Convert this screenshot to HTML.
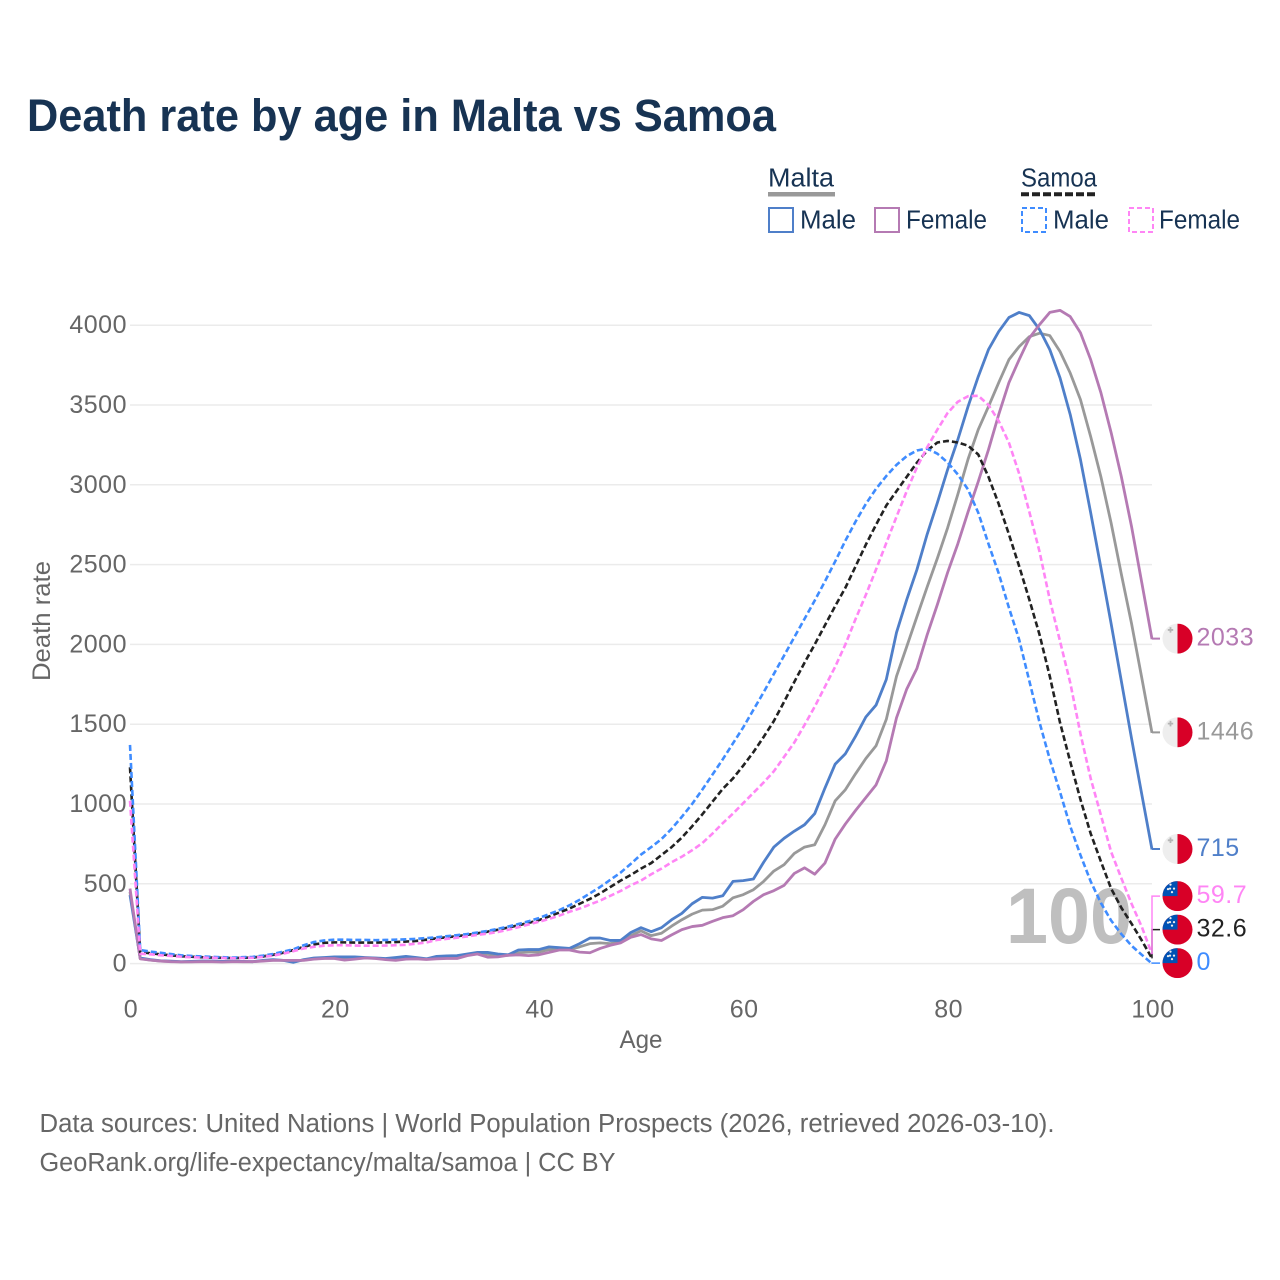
<!DOCTYPE html>
<html lang="en">
<head>
<meta charset="utf-8">
<title>Death rate by age in Malta vs Samoa</title>
<style>
html,body{margin:0;padding:0;background:#fff;}
svg{display:block;font-family:"Liberation Sans",sans-serif;}
</style>
</head>
<body>
<svg id="chart" width="1280" height="1280" viewBox="0 0 1280 1280" xmlns="http://www.w3.org/2000/svg">
  <defs>
    <clipPath id="flag-clip"><circle cx="0" cy="0" r="15"></circle></clipPath>
  </defs>
  <rect x="0" y="0" width="1280" height="1280" fill="#ffffff"></rect>
  <text x="27" y="131" font-size="45" font-weight="700" fill="#173353" textLength="749" lengthAdjust="spacingAndGlyphs">Death rate by age in Malta vs Samoa</text>

  <g font-size="25.5" fill="#173353">
    <text x="768" y="186.5" textLength="66" lengthAdjust="spacingAndGlyphs">Malta</text>
    <rect x="768" y="192" width="67" height="4.5" fill="#999999"></rect>
    <text x="1021" y="186.5" textLength="76" lengthAdjust="spacingAndGlyphs">Samoa</text>
    <line x1="1021" y1="194.2" x2="1097" y2="194.2" stroke="#222222" stroke-width="4" stroke-dasharray="8 3"></line>

    <rect x="769" y="208" width="24" height="24" fill="none" stroke="#4f7fc9" stroke-width="2"></rect>
    <text x="800" y="228.5" textLength="56" lengthAdjust="spacingAndGlyphs">Male</text>
    <rect x="875" y="208" width="24" height="24" fill="none" stroke="#b57ab3" stroke-width="2"></rect>
    <text x="906" y="228.5" textLength="81" lengthAdjust="spacingAndGlyphs">Female</text>
    <rect x="1022" y="208" width="24" height="24" fill="none" stroke="#3f8cff" stroke-width="2" stroke-dasharray="5 3"></rect>
    <text x="1053" y="228.5" textLength="56" lengthAdjust="spacingAndGlyphs">Male</text>
    <rect x="1129" y="208" width="24" height="24" fill="none" stroke="#ff85f5" stroke-width="2" stroke-dasharray="5 3"></rect>
    <text x="1159" y="228.5" textLength="81" lengthAdjust="spacingAndGlyphs">Female</text>
  </g>

  <g id="grid"></g>
  <g id="yticks" font-size="25" fill="#666666" text-anchor="end" letter-spacing="0.5"></g>
  <g id="xticks" font-size="25" fill="#666666" text-anchor="middle" letter-spacing="0.5"></g>
  <text transform="translate(50,621) rotate(-90)" font-size="25" fill="#666666" text-anchor="middle" textLength="120" lengthAdjust="spacingAndGlyphs">Death rate</text>
  <text x="641" y="1048" font-size="25" fill="#666666" text-anchor="middle" textLength="43" lengthAdjust="spacingAndGlyphs">Age</text>

  <text x="1006" y="943" font-size="79" font-weight="700" fill="#bfbfbf" textLength="126" lengthAdjust="spacingAndGlyphs">100</text>

  <g id="series" fill="none" stroke-linejoin="round"></g>
  <g id="leaders" fill="none"></g>
  <g id="flags"></g>
  <g id="endlabels" font-size="25"></g>

  <g font-size="25.5" fill="#666666">
    <text x="39.5" y="1132" textLength="1015" lengthAdjust="spacingAndGlyphs">Data sources: United Nations | World Population Prospects (2026, retrieved 2026-03-10).</text>
    <text x="39.5" y="1171" textLength="576" lengthAdjust="spacingAndGlyphs">GeoRank.org/life-expectancy/malta/samoa | CC BY</text>
  </g>
</svg>

<script>
var yTickValues = [0, 500, 1000, 1500, 2000, 2500, 3000, 3500, 4000];
var xTickValues = [0, 20, 40, 60, 80, 100];

var maltaAll = [
  450,32,22,16,13,11,12,14,14,12,
  13,12,12,18,22,20,16,22,30,34,
  38,38,38,36,34,28,30,36,32,28,
  38,40,42,52,62,58,48,52,68,72,
  72,88,88,88,105,125,130,125,135,175,
  205,175,190,235,275,310,335,338,360,412,
  432,463,515,580,620,690,730,745,870,1020,
  1090,1190,1285,1365,1530,1800,1986,2174,2360,2540,
  2730,2940,3160,3346,3490,3640,3784,3866,3928,3950,
  3935,3835,3700,3534,3302,3050,2760,2440,2130,1790,
  1446
];
var maltaMale = [
  430,35,25,18,15,12,14,16,16,14,
  15,14,12,20,25,20,8,25,35,38,
  42,42,42,38,35,32,38,45,38,30,
  45,48,50,60,70,70,60,55,85,88,
  88,105,100,95,125,160,160,145,145,195,
  225,200,225,275,315,375,415,410,425,515,
  520,530,635,730,785,830,870,940,1100,1250,
  1315,1425,1545,1620,1780,2074,2280,2469,2690,2888,
  3095,3283,3490,3678,3847,3960,4048,4080,4060,3972,
  3847,3670,3440,3158,2825,2480,2130,1770,1410,1060,
  715
];
var maltaFemale = [
  470,30,22,16,12,11,11,12,12,10,
  12,12,12,16,20,20,20,20,28,32,
  32,22,28,35,32,25,20,28,30,26,
  30,32,32,50,60,40,42,52,55,50,
  55,70,85,85,72,68,95,115,130,165,
  182,155,145,180,213,232,240,265,288,300,
  338,390,432,457,490,565,600,560,630,780,
  875,960,1040,1120,1270,1540,1720,1850,2060,2250,
  2450,2630,2830,3020,3220,3440,3640,3784,3920,4004,
  4080,4093,4054,3953,3784,3577,3327,3051,2738,2387,
  2033
];
var samoaAll = [
  1230,72,65,58,52,46,43,40,38,36,
  35,36,38,45,55,68,85,105,120,130,
  133,133,132,132,132,133,135,138,142,150,
  158,165,172,180,190,200,212,226,240,255,
  272,295,320,345,375,405,440,480,520,555,
  595,630,680,730,790,860,935,1015,1095,1160,
  1240,1325,1420,1520,1640,1765,1885,2000,2120,2240,
  2355,2490,2625,2750,2870,2960,3050,3139,3215,3265,
  3275,3265,3245,3190,3050,2880,2690,2490,2280,2060,
  1800,1510,1265,1028,815,640,470,350,250,145,
  32.6
];
var samoaMale = [
  1370,85,75,68,60,52,48,45,42,40,
  38,40,42,50,60,75,90,115,135,145,
  150,150,148,148,147,148,150,152,155,160,
  165,172,178,185,195,205,218,232,248,265,
  285,310,335,365,400,440,480,525,570,625,
  683,730,780,845,920,1000,1090,1185,1280,1380,
  1480,1590,1700,1815,1930,2045,2160,2275,2395,2520,
  2650,2770,2880,2975,3055,3125,3180,3215,3227,3195,
  3140,3065,2970,2825,2630,2445,2230,2030,1770,1510,
  1280,1075,860,680,515,380,270,185,112,55,
  0
];
var samoaFemale = [
  1020,62,58,52,48,43,40,38,36,35,
  34,35,36,42,50,62,78,95,105,112,
  115,115,113,112,112,113,115,118,125,132,
  148,155,162,170,180,188,198,212,228,245,
  262,280,300,325,345,370,395,425,455,490,
  520,560,595,635,670,710,755,815,880,940,
  1005,1070,1135,1205,1295,1385,1495,1610,1735,1860,
  2000,2160,2310,2470,2635,2800,2960,3110,3235,3346,
  3450,3520,3555,3558,3500,3400,3264,3070,2830,2580,
  2280,2020,1760,1440,1160,930,700,535,375,230,
  59.7
];

var NS = 'http://www.w3.org/2000/svg';
function xScale(age) { return 130 + age * 10.22; }
function yScale(v) { return 963.6 - v * 0.1596; }
function el(tag, attrs, parent) {
  var e = document.createElementNS(NS, tag);
  for (var k in attrs) e.setAttribute(k, attrs[k]);
  parent.appendChild(e);
  return e;
}
function linePath(values) {
  return values.map(function (v, i) {
    return (i ? 'L' : 'M') + xScale(i).toFixed(2) + ' ' + yScale(v).toFixed(2);
  }).join('');
}

var gridG = document.getElementById('grid');
var yG = document.getElementById('yticks');
var xG = document.getElementById('xticks');
yTickValues.forEach(function (t) {
  var g = el('line', { x1: xScale(0), x2: xScale(100), y1: yScale(t), y2: yScale(t), stroke: '#ebebeb', 'stroke-width': 1.5 }, gridG);
  
  
  var l = el('text', { x: 127, y: yScale(t) + 8 }, yG);
  l.textContent = String(t);
  
  
});
xTickValues.forEach(function (t) {
  var l = el('text', { x: xScale(t) + 1, y: 1017.5 }, xG);
  l.textContent = String(t);
  
  
});

var seriesList = [
  { key: 'malta-all', values: maltaAll, color: '#999999', width: 2.8, dash: null, flag: 'malta', labelColor: '#999999' },
  { key: 'malta-male', values: maltaMale, color: '#4f7fc9', width: 2.8, dash: null, flag: 'malta', labelColor: '#4f7fc9' },
  { key: 'malta-female', values: maltaFemale, color: '#b57ab3', width: 2.8, dash: null, flag: 'malta', labelColor: '#b57ab3' },
  { key: 'samoa-all', values: samoaAll, color: '#222222', width: 2.6, dash: '6 3', flag: 'samoa', labelColor: '#222222' },
  { key: 'samoa-male', values: samoaMale, color: '#3f8cff', width: 2.6, dash: '6 3', flag: 'samoa', labelColor: '#3f8cff' },
  { key: 'samoa-female', values: samoaFemale, color: '#ff85f5', width: 2.6, dash: '6 3', flag: 'samoa', labelColor: '#ff85f5' }
];

var seriesG = document.getElementById('series');
seriesList.forEach(function (s) {
  var attrs = { d: linePath(s.values), stroke: s.color, 'stroke-width': s.width };
  if (s.dash) attrs['stroke-dasharray'] = s.dash;
  var p = el('path', attrs, seriesG);
  
  
});

// End labels: each sits at its series' final value, pushed up when labels would collide.
var ordered = seriesList.slice().sort(function (a, b) {
  return a.values[100] - b.values[100];
});
var prevY = Infinity;
ordered.forEach(function (s) {
  var y = yScale(s.values[100]) - 0.5;
  if (y > prevY - 33.5) y = prevY - 33.5;
  s.labelY = y;
  prevY = y;
});

var leadG = document.getElementById('leaders');
var flagG = document.getElementById('flags');
var labG = document.getElementById('endlabels');

function drawFlag(kind, cy, key) {
  var g = el('g', { transform: 'translate(1177.5,' + cy.toFixed(2) + ')', 'clip-path': 'url(#flag-clip)' }, flagG);
  
  
  if (kind === 'malta') {
    el('rect', { x: -15, y: -15, width: 15, height: 30, fill: '#eeeeee' }, g);
    el('rect', { x: 0, y: -15, width: 15, height: 30, fill: '#d80027' }, g);
    el('path', { d: 'M-7 -11.5V-6M-9.7 -8.7H-4.3', stroke: '#b5b5b5', 'stroke-width': 1.8, fill: 'none' }, g);
  } else {
    el('rect', { x: -15, y: -15, width: 30, height: 30, fill: '#d80027' }, g);
    el('rect', { x: -15, y: -15, width: 15, height: 15, fill: '#0052b4' }, g);
    var sx = [-7, -3.5, -9.5, -5.5, -7.5];
    var sy = [-11.5, -7.5, -7, -4, -7.5];
    sx.forEach(function (x, i) {
      el('circle', { cx: x, cy: sy[i], r: 1.1, fill: '#f0f0f0' }, g);
    });
  }
}

seriesList.forEach(function (s) {
  var endX = xScale(100);
  var endY = yScale(s.values[100]);
  var lead = el('path', {
    d: 'M' + endX + ' ' + endY.toFixed(2) + 'L' + endX + ' ' + s.labelY.toFixed(2) + 'L1160 ' + s.labelY.toFixed(2),
    stroke: s.color,
    'stroke-width': s.dash ? 1.5 : 2
  }, leadG);
  
  
  drawFlag(s.flag, s.labelY, s.key);
  var t = el('text', { x: 1196.5, y: s.labelY + 7, fill: s.labelColor, 'letter-spacing': 0.5 }, labG);
  t.textContent = String(s.values[100]);
  
  
});
</script>
</body>
</html>
